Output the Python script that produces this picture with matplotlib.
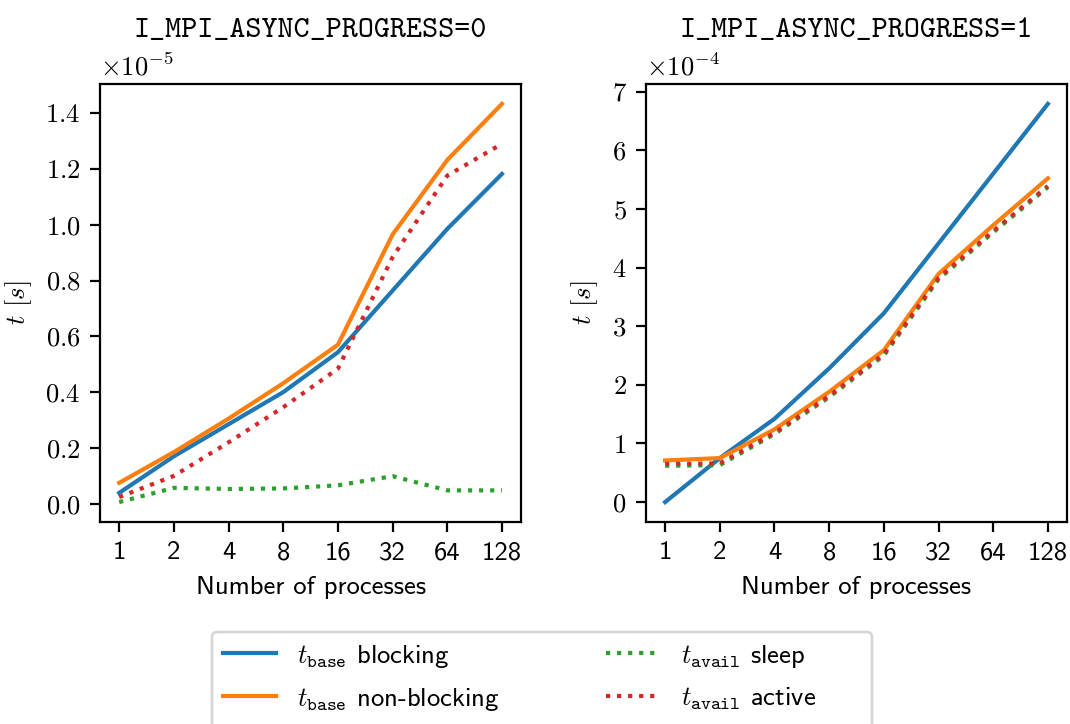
import numpy as np
import matplotlib
matplotlib.use("Agg")
from matplotlib import pyplot as plt
from matplotlib.patches import FancyBboxPatch

plt.rcParams['font.family'] = 'serif'
plt.rcParams['font.serif'] = ['cmr10']
plt.rcParams['mathtext.fontset'] = 'cm'
plt.rcParams['axes.formatter.use_mathtext'] = True
plt.rcParams['font.size'] = 9.6

procs = [1, 2, 4, 8, 16, 32, 64, 128]
proc_labels = ['1', '2', '4', '8', '16', '32', '64', '128']

# I_MPI_ASYNC_PROGRESS=0  (seconds)
base_blocking_0 = np.array([0.039, 0.17, 0.285, 0.40, 0.543, 0.764, 0.985, 1.182]) * 1e-5
base_nonblocking_0 = np.array([0.075, 0.185, 0.305, 0.432, 0.57, 0.965, 1.232, 1.433]) * 1e-5
avail_sleep_0 = np.array([0.006, 0.057, 0.053, 0.055, 0.066, 0.099, 0.048, 0.048]) * 1e-5
avail_active_0 = np.array([0.024, 0.10, 0.22, 0.346, 0.484, 0.884, 1.176, 1.29]) * 1e-5

# I_MPI_ASYNC_PROGRESS=1  (seconds)
base_blocking_1 = np.array([0.0, 0.75, 1.42, 2.28, 3.22, 4.41, 5.60, 6.79]) * 1e-4
base_nonblocking_1 = np.array([0.71, 0.75, 1.24, 1.88, 2.59, 3.89, 4.72, 5.52]) * 1e-4
avail_sleep_1 = np.array([0.62, 0.63, 1.16, 1.79, 2.50, 3.80, 4.60, 5.37]) * 1e-4
avail_active_1 = np.array([0.65, 0.66, 1.18, 1.81, 2.52, 3.82, 4.62, 5.39]) * 1e-4

titles = ['I_MPI_ASYNC_PROGRESS=0', 'I_MPI_ASYNC_PROGRESS=1']
data = [
    (base_blocking_0, base_nonblocking_0, avail_sleep_0, avail_active_0),
    (base_blocking_1, base_nonblocking_1, avail_sleep_1, avail_active_1),
]
labels = [r'$t_{\mathtt{base}}$ blocking', r'$t_{\mathtt{base}}$ non-blocking',
          r'$t_{\mathtt{avail}}$ sleep', r'$t_{\mathtt{avail}}$ active']
colors = ['tab:blue', 'tab:orange', 'tab:green', 'tab:red']
styles = ['-', '-', ':', ':']

fig = plt.figure(figsize=(5.35, 3.62), dpi=200)
axes = [fig.add_axes([0.0935, 0.279, 0.3935, 0.605]),
        fig.add_axes([0.6037, 0.279, 0.3935, 0.605])]

for ax, title, series in zip(axes, titles, data):
    for y, c, ls, lab in zip(series, colors, styles, labels):
        ax.plot(procs, y, color=c, linestyle=ls, linewidth=1.5, label=lab)
    ax.set_xscale('log', base=2)
    ax.set_xticks(procs, labels=proc_labels)
    ax.minorticks_off()
    for t in ax.get_xticklabels():
        t.set_fontfamily('cmss10')
    ax.set_xlabel('Number of processes', fontfamily='cmss10')
    ax.set_ylabel(r'$t$ $[s]$')
    ax.set_title(title, fontfamily='cmtt10', fontsize=11, pad=17)
    ax.ticklabel_format(axis='y', style='sci', scilimits=(0, 0))

axes[0].set_yticks(np.arange(0, 1.41e-5, 0.2e-5))
axes[1].set_yticks(np.arange(0, 7.1e-4, 1e-4))

handles, labs = axes[0].get_legend_handles_labels()
fig.legend(handles, labs, loc='upper left', bbox_to_anchor=(212 / 1070, 1 - 632 / 724),
           borderaxespad=0, ncol=2, columnspacing=3.98, labelspacing=0.6,
           frameon=False, prop={'family': 'cmss10'})

# legend frame: wider than the entries and running off the bottom edge
frame = FancyBboxPatch((212 / 200, -0.1), (872 - 212) / 200, (724 - 632) / 200 + 0.1,
                       boxstyle='round,pad=0,rounding_size=0.027',
                       transform=fig.dpi_scale_trans, facecolor='white',
                       edgecolor='0.8', linewidth=1.0, alpha=0.8, zorder=1)
fig.patches.append(frame)

fig.savefig('out.png', dpi=200)
